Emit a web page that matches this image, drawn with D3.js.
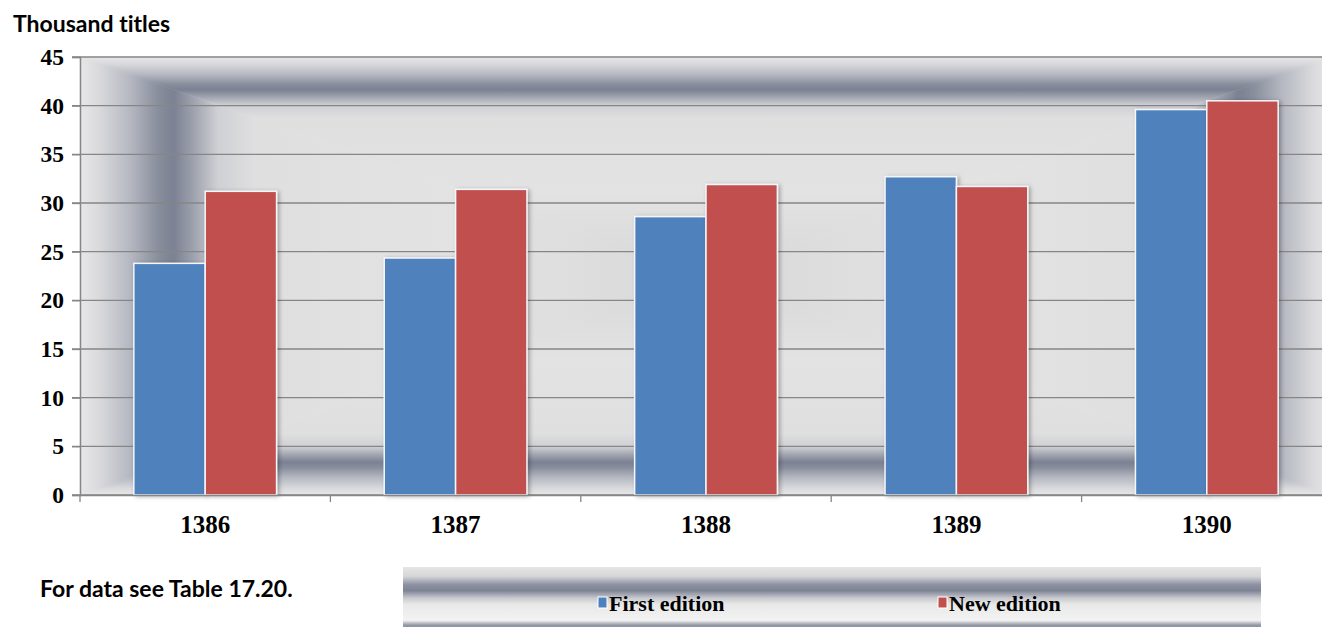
<!DOCTYPE html>
<html>
<head>
<meta charset="utf-8">
<script src="https://cdn.jsdelivr.net/npm/d3@7"></script>
<style>
    body { margin: 0; background: #fff; }
    svg { display: block; }
    .serif { font-family: "Liberation Serif", "Times New Roman", serif; font-weight: bold; }
    .sans { font-family: Lato, "Open Sans", sans-serif; font-weight: bold; font-variant-ligatures: none; }
</style>
</head>
<body>
<svg id="chart"></svg>
<script>
// values (thousand titles)
var years = ["1386", "1387", "1388", "1389", "1390"];
var firstEdition = [23.8, 24.35, 28.6, 32.7, 39.6];
var newEdition = [31.2, 31.4, 31.9, 31.7, 40.5];
var seriesNames = ["First edition", "New edition"];
var seriesColors = ["#4f81bd", "#c0504d"];
var yTicks = [0, 5, 10, 15, 20, 25, 30, 35, 40, 45];

BookChart = function (_parentElement) {
    this.parentElement = _parentElement;
    this.width = 1322;
    this.height = 627;
    this.initVis();
}

BookChart.prototype.initVis = function () {
    var vis = this;
    vis.left = 80;
    vis.right = 1332;   // plot runs past the window edge, like the picture
    vis.top = 57;
    vis.bottom = 495;

    vis.svg = d3.select("#" + vis.parentElement)
        .attr("width", vis.width)
        .attr("height", vis.height);

    vis.defs = vis.svg.append("defs");

    vis.wrangleData();
}

BookChart.prototype.wrangleData = function () {
    var vis = this;
    vis.data = years.map(function (y, i) {
        return {year: y, values: [firstEdition[i], newEdition[i]]};
    });

    vis.xScale = d3.scaleBand()
        .domain(years)
        .range([vis.left, vis.right]);

    var inner = vis.xScale.bandwidth() * 0.57;
    var off = (vis.xScale.bandwidth() - inner) / 2;
    vis.xSub = d3.scaleBand()
        .domain(seriesNames)
        .range([off, off + inner]);

    vis.yScale = d3.scaleLinear()
        .domain([0, 45])
        .range([vis.bottom, vis.top]);

    vis.updateVis();
}

BookChart.prototype.updateVis = function () {
    var vis = this;
    var svg = vis.svg;
    var cx = (vis.left + vis.right) / 2, cy = (vis.top + vis.bottom) / 2;

    // rectangular "path" gradient: four triangles, each with a linear ramp edge -> centre
    var stops = [
        [0, "#e7e7e9"], [0.03, "#dadadd"], [0.08, "#b5b8c1"], [0.125, "#898e9d"],
        [0.15, "#7c8193"], [0.18, "#9da1ad"], [0.22, "#cfd0d4"], [0.28, "#dfdfe0"],
        [0.6, "#e3e3e3"], [1, "#d8d8d8"]
    ];
    var sides = [
        {id: "gTop", pts: [[vis.left, vis.top], [vis.right, vis.top], [cx, cy]], x1: 0, y1: vis.top, x2: 0, y2: cy},
        {id: "gBot", pts: [[vis.left, vis.bottom], [vis.right, vis.bottom], [cx, cy]], x1: 0, y1: vis.bottom, x2: 0, y2: cy},
        {id: "gLeft", pts: [[vis.left, vis.top], [vis.left, vis.bottom], [cx, cy]], x1: vis.left, y1: 0, x2: cx, y2: 0},
        {id: "gRight", pts: [[vis.right, vis.top], [vis.right, vis.bottom], [cx, cy]], x1: vis.right, y1: 0, x2: cx, y2: 0}
    ];
    sides.forEach(function (s) {
        var g = vis.defs.append("linearGradient")
            .attr("id", s.id)
            .attr("gradientUnits", "userSpaceOnUse")
            .attr("x1", s.x1).attr("y1", s.y1).attr("x2", s.x2).attr("y2", s.y2);
        stops.forEach(function (st) {
            g.append("stop").attr("offset", st[0]).attr("stop-color", st[1]);
        });
        svg.append("polygon")
            .attr("points", s.pts.map(function (p) { return p.join(","); }).join(" "))
            .attr("fill", "url(#" + s.id + ")")
            .attr("stroke", "url(#" + s.id + ")")
            .attr("stroke-width", 0.6);
    });

    // drop shadow for bars
    var f = vis.defs.append("filter").attr("id", "shadow")
        .attr("x", "-20%").attr("y", "-5%").attr("width", "140%").attr("height", "110%");
    f.append("feDropShadow").attr("dx", 2).attr("dy", 1).attr("stdDeviation", 2)
        .attr("flood-color", "#000").attr("flood-opacity", 0.3);

    // gridlines
    svg.append("g")
        .selectAll("line")
        .data(yTicks)
        .enter()
        .append("line")
        .attr("x1", vis.left - 8)
        .attr("x2", vis.right)
        .attr("y1", function (d) { return vis.yScale(d); })
        .attr("y2", function (d) { return vis.yScale(d); })
        .attr("stroke", "#868686")
        .attr("stroke-width", 1.3);

    // bars
    var groups = svg.selectAll(".year")
        .data(vis.data)
        .enter()
        .append("g")
        .attr("class", "year")
        .attr("transform", function (d) { return "translate(" + vis.xScale(d.year) + ",0)"; });

    groups.selectAll("rect")
        .data(function (d) { return d.values.map(function (v, i) { return {name: seriesNames[i], value: v, i: i}; }); })
        .enter()
        .append("rect")
        .attr("x", function (d) { return vis.xSub(d.name); })
        .attr("width", vis.xSub.bandwidth())
        .attr("y", function (d) { return vis.yScale(d.value); })
        .attr("height", function (d) { return vis.yScale(0) - vis.yScale(d.value); })
        .attr("fill", function (d) { return seriesColors[d.i]; })
        .attr("stroke", "#f4f6fa")
        .attr("stroke-width", 1.5)
        .attr("filter", "url(#shadow)");

    // y axis
    var yAxis = d3.axisLeft(vis.yScale)
        .tickValues(yTicks)
        .tickSize(8)
        .tickPadding(8);

    var yg = svg.append("g")
        .attr("class", "axis y-axis")
        .attr("transform", "translate(" + vis.left + ",0)")
        .call(yAxis);
    yg.select(".domain").attr("stroke", "#868686").attr("stroke-width", 1.5);
    yg.selectAll(".tick line").attr("stroke", "#868686").attr("stroke-width", 1.3);
    yg.selectAll(".tick text")
        .attr("class", "serif")
        .attr("font-size", 23.5)
        .attr("fill", "#000");

    // x axis
    var xAxis = d3.axisBottom(vis.xScale)
        .tickSize(0)
        .tickPadding(20);

    var xg = svg.append("g")
        .attr("class", "axis x-axis")
        .attr("transform", "translate(0," + vis.bottom + ")")
        .call(xAxis);
    xg.select(".domain").attr("stroke", "#868686").attr("stroke-width", 1.5);
    xg.selectAll(".tick text")
        .attr("class", "serif")
        .attr("font-size", 25)
        .attr("fill", "#000");

    // category separators
    xg.selectAll(".sep")
        .data(years)
        .enter()
        .append("line")
        .attr("x1", function (d) { return vis.xScale(d); })
        .attr("x2", function (d) { return vis.xScale(d); })
        .attr("y1", 0)
        .attr("y2", 7)
        .attr("stroke", "#868686")
        .attr("stroke-width", 1.3);

    // titles
    svg.append("text")
        .attr("class", "sans")
        .attr("x", 13)
        .attr("y", 32)
        .attr("font-size", 23)
        .text("Thousand titles");

    svg.append("text")
        .attr("class", "sans")
        .attr("x", 40)
        .attr("y", 597)
        .attr("font-size", 23)
        .text("For data see Table 17.20.");

    // legend
    var lg = vis.defs.append("linearGradient")
        .attr("id", "legendGrad")
        .attr("x1", 0).attr("y1", 0).attr("x2", 0).attr("y2", 1);
    [[0, "#e5e5e5"], [0.15, "#d6d6d9"], [0.28, "#8f94a3"], [0.38, "#7d8295"], [0.5, "#c8c9ce"],
     [0.6, "#e8e8e8"], [0.86, "#f3f3f3"], [0.9, "#c2c4ca"], [0.94, "#8f94a3"], [1, "#9a9eac"]]
        .forEach(function (st) {
            lg.append("stop").attr("offset", st[0]).attr("stop-color", st[1]);
        });

    svg.append("rect")
        .attr("x", 403)
        .attr("y", 567)
        .attr("width", 858)
        .attr("height", 62)
        .attr("fill", "url(#legendGrad)");

    var legendX = [598, 938];
    var items = svg.selectAll(".legend-item")
        .data(seriesNames)
        .enter()
        .append("g")
        .attr("class", "legend-item")
        .attr("transform", function (d, i) { return "translate(" + legendX[i] + ",603)"; });

    items.append("rect")
        .attr("x", 0)
        .attr("y", -6)
        .attr("width", 9)
        .attr("height", 11)
        .attr("fill", function (d, i) { return seriesColors[i]; })
        .attr("stroke", "#fff")
        .attr("stroke-width", 1);

    items.append("text")
        .attr("class", "serif")
        .attr("x", 11)
        .attr("y", 8)
        .attr("font-size", 22)
        .text(function (d) { return d; });
}

var chart = new BookChart("chart");
</script>
</body>
</html>
